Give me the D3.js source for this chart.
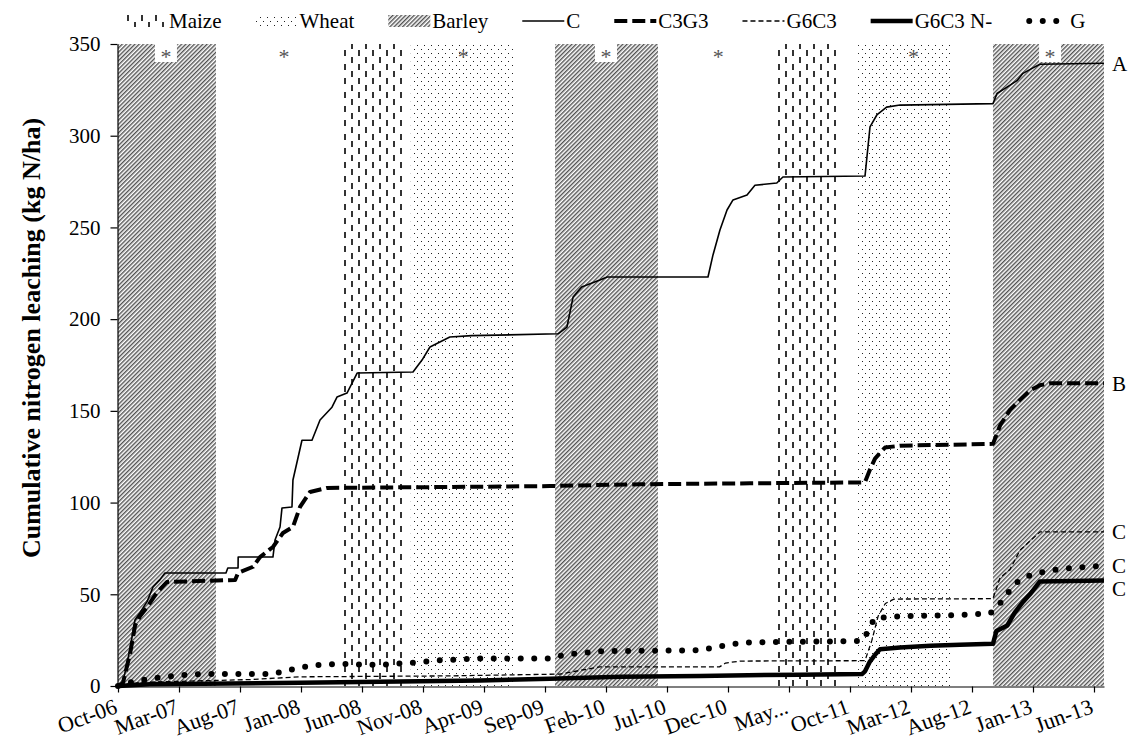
<!DOCTYPE html>
<html lang="en">
<head>
  <meta charset="UTF-8">
  <title>Cumulative nitrogen leaching</title>
  <script src="https://d3js.org/d3.v7.min.js"></script>
  <style>
    body { margin: 0; background: #fff; }
    text { font-family: "Liberation Serif", "Times New Roman", serif; fill: #000; }
  </style>
</head>
<body>

<svg width="1131" height="740"></svg>

<script>

  // x = months since Oct-06, y = kg N/ha
  var tickLabels = ["Oct-06", "Mar-07", "Aug-07", "Jan-08", "Jun-08", "Nov-08", "Apr-09", "Sep-09",
    "Feb-10", "Jul-10", "Dec-10", "May...", "Oct-11", "Mar-12", "Aug-12", "Jan-13", "Jun-13"];
  var tickMonths = d3.range(0, 81, 5);
  var yTicks = [0, 50, 100, 150, 200, 250, 300, 350];

  // crop periods (months)
  var cropNames = ["Barley", "Maize", "Wheat", "Barley", "Maize", "Wheat", "Barley"];
  var cropStart = [0, 18.44, 24.0, 35.82, 53.75, 60.66, 71.72];
  var cropEnd = [8.03, 23.5, 32.4, 44.26, 59.0, 68.44, 80.82];

  // asterisks at the top of the periods
  var starMonths = [3.93, 13.6, 28.3, 40.0, 49.2, 65.2, 76.4];
  var starBox = [true, false, false, true, false, false, true];

  // series
  var C = [[0, 0], [0.4, 2], [0.98, 20], [1.39, 36], [1.8, 40], [2.38, 46], [2.87, 54], [3.44, 58], [3.85, 61.6],
    [8.85, 61.6], [9.0, 64.3], [9.84, 64.3], [9.85, 70.3], [12.7, 70.3], [12.87, 79.6], [13.28, 86.7], [13.44, 97],
    [14.26, 97.6], [14.34, 112.3], [14.75, 124.3], [15.08, 134], [15.9, 134], [16.56, 145], [17.54, 152],
    [17.95, 157.5], [18.77, 159.7], [19.6, 170.6], [24.18, 171.2], [24.92, 177.7], [25.57, 184.8], [27.2, 190.3],
    [29, 191], [36.07, 192], [36.8, 195.7], [37.3, 212], [38.0, 217.5], [39.5, 221.3], [40.1, 223], [48.36, 223],
    [48.77, 235], [49.34, 248.6], [49.92, 259.5], [50.41, 265], [51.56, 267.7], [52.21, 273], [54.0, 274.2],
    [54.5, 277.5], [61.23, 278], [61.64, 304.8], [62.2, 311.3], [63.0, 315.6], [64.1, 316.7], [71.72, 317.5],
    [72.05, 323], [72.87, 326.5], [73.69, 330], [74.18, 334], [75.0, 337], [75.57, 339], [80.82, 339.5]];

  var C3G3 = [[0, 0], [0.4, 1.5], [1.0, 18], [1.4, 33], [1.8, 38], [2.38, 43], [3.2, 51], [4.0, 56.7], [9.6, 57.8],
    [9.84, 61.6], [11.07, 65], [11.64, 70.3], [12.7, 75.8], [13.52, 83.4], [14.34, 86.7], [14.92, 97.6],
    [15.74, 105.8], [17.13, 108], [27.2, 108.5], [35.4, 109], [42.8, 110], [51.8, 110.5], [60.98, 111],
    [61.23, 111.2], [61.64, 118], [62.05, 124], [62.87, 130], [64.1, 131], [71.72, 132], [72.3, 142],
    [73.11, 150.5], [73.93, 156], [74.75, 161], [75.57, 164], [76.4, 165], [80.82, 165]];

  var G6C3 = [[0, 0], [1.8, 2], [10.8, 3.5], [14.9, 5], [27.0, 5.5], [36.2, 6.5], [38.3, 9], [39.5, 10.4],
    [49.3, 10.4], [49.8, 12.5], [51.0, 13.6], [61.23, 13.8], [61.8, 25], [62.3, 38], [62.9, 45], [63.6, 47.4],
    [71.72, 47.6], [72.3, 59], [73.11, 63.5], [73.93, 74], [74.75, 79], [75.57, 84], [80.82, 84]];

  var G6C3N = [[0, 0], [2.6, 1], [14.9, 1.8], [23.1, 2.5], [29.7, 3], [35.4, 4], [41.2, 5], [47.7, 5.5],
    [55.9, 6.2], [60.98, 6.5], [61.23, 8], [61.6, 13], [62.05, 17], [62.46, 20], [64.1, 21], [66.6, 22],
    [69.0, 22.5], [71.72, 23], [72.0, 30], [72.9, 33], [73.5, 40], [74.2, 46], [74.75, 50], [75.57, 57],
    [80.82, 57.5]];

  var G = [[0, 0], [1.0, 2], [2.6, 4], [4.5, 5.5], [6.7, 6.5], [12.5, 6.5], [13.3, 7.5], [14.9, 10], [16.4, 11.5],
    [18.2, 12], [21.5, 11.5], [24.8, 13], [26.4, 14], [29.7, 15], [35.4, 15], [36.6, 17], [39.5, 19],
    [47.7, 19.5], [49.3, 21.5], [51.0, 23.5], [53.4, 24], [60.98, 24.5], [61.5, 30], [62.0, 37], [64.1, 38],
    [68.2, 38.5], [71.5, 39.5], [72.3, 45], [73.1, 52], [73.9, 58], [75.0, 61], [76.4, 63], [78.3, 64.5],
    [80.82, 65.5]];

  var seriesNames = ["C", "C3G3", "G6C3", "G6C3 N-", "G"];
  var seriesData = [C, C3G3, G6C3, G6C3N, G];
  var endLetters = ["A", "B", "C", "C", "C"];


  var svg = d3.select('svg');
  var pLeft = 118, pRight = 1104, pTop = 44, pBottom = 686;

  var x = d3.scaleLinear().domain([0, 80.82]).range([pLeft, pRight]);
  var y = d3.scaleLinear().domain([0, 350]).range([pBottom, pTop]);

  // 线型
  var lineStyle = {
    "C": { w: 1.6, dash: null, cap: "butt" },
    "C3G3": { w: 4, dash: "13,5", cap: "butt" },
    "G6C3": { w: 1.3, dash: "5,3", cap: "butt" },
    "G6C3 N-": { w: 4.5, dash: null, cap: "butt" },
    "G": { w: 6, dash: "0,13.5", cap: "round" }
  };

  // fill patterns
  var defs = svg.append('defs');

  var pb = defs.append('pattern').attr('id', 'barley')
          .attr('patternUnits', 'userSpaceOnUse')
          .attr('width', 3).attr('height', 3)
          .attr('patternTransform', 'rotate(45)');
  pb.append('line').attr('x1', 0.75).attr('y1', 0).attr('x2', 0.75).attr('y2', 3)
          .attr('stroke', '#333').attr('stroke-width', 1.2);

  var pm = defs.append('pattern').attr('id', 'maize')
          .attr('patternUnits', 'userSpaceOnUse')
          .attr('width', 14).attr('height', 14);
  pm.append('rect').attr('x', 1).attr('y', 1).attr('width', 2).attr('height', 6).attr('fill', '#333');
  pm.append('rect').attr('x', 8).attr('y', 8).attr('width', 2).attr('height', 6).attr('fill', '#333');

  var pw = defs.append('pattern').attr('id', 'wheat')
          .attr('patternUnits', 'userSpaceOnUse')
          .attr('width', 7).attr('height', 8);
  pw.append('rect').attr('x', 1).attr('y', 1).attr('width', 1).attr('height', 1).attr('fill', '#222');
  pw.append('rect').attr('x', 4).attr('y', 5).attr('width', 1).attr('height', 1).attr('fill', '#222');

  var fillOf = { "Barley": "url(#barley)", "Maize": "url(#maize)", "Wheat": "url(#wheat)" };

  // 作物期
  var crops = cropNames.map(function (c, i) { return { crop: c, s: cropStart[i], e: cropEnd[i] }; });
  svg.append('g').selectAll('rect')
          .data(crops)
          .enter()
          .append('rect')
          .attr('x', function (d) { return x(d.s); })
          .attr('y', pTop)
          .attr('width', function (d) { return x(d.e) - x(d.s); })
          .attr('height', pBottom - pTop)
          .attr('fill', function (d) { return fillOf[d.crop]; });

  // asterisks
  var sg = svg.append('g');
  starMonths.forEach(function (m, i) {
    if (starBox[i]) {
      sg.append('rect').attr('x', x(m) - 11).attr('y', pTop).attr('width', 22).attr('height', 18).attr('fill', '#fff');
    }
    sg.append('text').attr('x', x(m)).attr('y', pTop + 20)
            .attr('text-anchor', 'middle').style('font-size', '22px').style('fill', '#555')
            .text('*');
  });

  // lines
  var line = d3.line().x(function (d) { return x(d[0]); }).y(function (d) { return y(d[1]); });
  var order = [4, 2, 3, 1, 0];
  order.forEach(function (i) {
    var st = lineStyle[seriesNames[i]];
    svg.append('path')
            .datum(seriesData[i])
            .attr('d', line)
            .attr('fill', 'none')
            .attr('stroke', '#000')
            .attr('stroke-width', st.w)
            .attr('stroke-dasharray', st.dash)
            .attr('stroke-linecap', st.cap)
            .attr('stroke-linejoin', 'round');
  });

  // end letters, pushed apart so they do not overlap
  var ends = seriesData.map(function (s, i) { return { t: endLetters[i], py: y(s[s.length - 1][1]) }; });
  ends.sort(function (a, b) { return a.py - b.py; });
  for (var k = 1; k < ends.length; k++) {
    if (ends[k].py - ends[k - 1].py < 23) ends[k].py = ends[k - 1].py + 23;
  }
  svg.append('g').selectAll('text')
          .data(ends)
          .enter()
          .append('text')
          .attr('x', pRight + 8)
          .attr('y', function (d) { return d.py; })
          .attr('dy', '0.35em')
          .style('font-size', '21px')
          .text(function (d) { return d.t; });

  // axes
  var yAxis = d3.axisLeft(y).tickValues(yTicks).tickSize(7).tickSizeOuter(0).tickPadding(10);
  var gy = svg.append('g').attr('transform', 'translate(' + (pLeft - 0.5) + ',0)').call(yAxis);
  gy.selectAll('text').style('font-size', '21px').style('font-family', '"Liberation Serif", serif');

  var xAxis = d3.axisBottom(x).tickValues(tickMonths).tickSize(6).tickSizeOuter(0)
          .tickFormat(function (d, i) { return tickLabels[i]; });
  var gx = svg.append('g').attr('transform', 'translate(0,' + (pBottom + 0.5) + ')').call(xAxis);
  gx.selectAll('text')
          .style('font-size', '22px').style('font-family', '"Liberation Serif", serif')
          .attr('text-anchor', 'end')
          .attr('dy', null)
          .attr('y', 0)
          .attr('transform', 'translate(0,26) rotate(-20)');
  svg.selectAll('.domain, .tick line').attr('stroke', '#000').attr('stroke-width', 1.2);

  // y title
  svg.append('text')
          .attr('transform', 'translate(40,' + 338 + ') rotate(-90)')
          .attr('text-anchor', 'middle')
          .style('font-size', '26px')
          .style('font-weight', 'bold')
          .text('Cumulative nitrogen leaching  (kg N/ha)');

  // legend
  var legendItems = ["Maize", "Wheat", "Barley"].concat(seriesNames);
  var lx = 125, ly = 21;
  var lg = svg.append('g');
  legendItems.forEach(function (name) {
    if (fillOf[name]) {
      lg.append('rect').attr('x', lx).attr('y', ly - 6).attr('width', 42).attr('height', 12)
              .attr('fill', fillOf[name]);
    } else {
      var st = lineStyle[name];
      lg.append('line').attr('x1', lx + (name === "G" ? 3 : 0)).attr('x2', lx + 42)
              .attr('y1', ly).attr('y2', ly)
              .attr('stroke', '#000').attr('stroke-width', st.w)
              .attr('stroke-dasharray', st.dash).attr('stroke-linecap', st.cap);
    }
    var t = lg.append('text').attr('x', lx + 44).attr('y', ly).attr('dy', '0.35em')
            .style('font-size', '21px').text(name);
    lx += 44 + t.node().getComputedTextLength() + 34;
  });

</script>
</body>
</html>
